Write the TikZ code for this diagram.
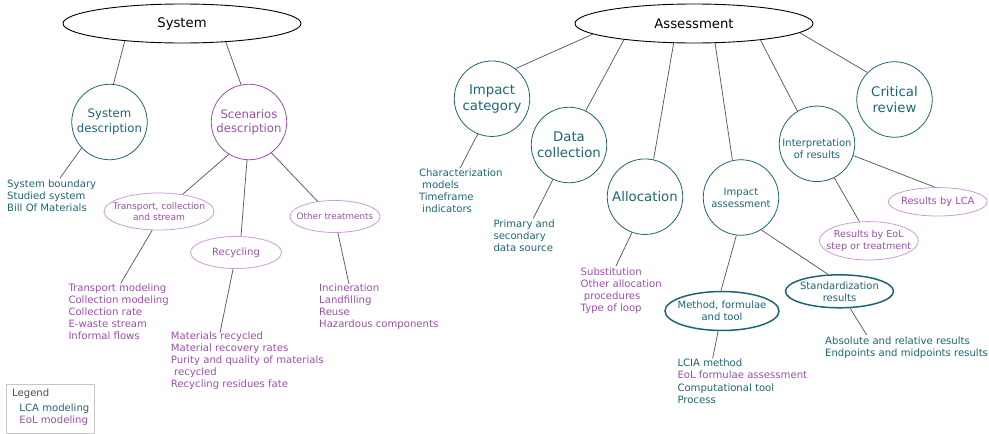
\documentclass[tikz,border=0pt]{standalone}
\usepackage{fontspec}
\setmainfont{DejaVu Sans}
\usetikzlibrary{shapes.geometric}
\definecolor{lca}{RGB}{27,102,116}
\definecolor{eol}{RGB}{158,76,172}
\definecolor{eolline}{RGB}{205,155,215}
\definecolor{conn}{RGB}{90,90,90}
\begin{document}
\begin{tikzpicture}[x=1pt,y=-1pt,
  top/.style={ellipse,draw=black,line width=0.9pt,minimum width=238pt,minimum height=39pt,inner sep=0pt,font=\fontsize{13.2}{15}\selectfont},
  bigc/.style={circle,draw=lca,line width=0.8pt,minimum size=75.5pt,inner sep=0pt,align=center,text=lca,font=\fontsize{13.3}{16}\selectfont},
  midc/.style={circle,draw=lca,line width=0.8pt,minimum size=75.5pt,inner sep=0pt,align=center,text=lca,font=\fontsize{11.7}{14.3}\selectfont},
  smallc/.style={circle,draw=lca,line width=0.8pt,minimum size=75.5pt,inner sep=0pt,align=center,text=lca,font=\fontsize{10}{12}\selectfont},
  eolell/.style={ellipse,draw=eolline,line width=0.8pt,inner sep=0pt},
  lcaell/.style={ellipse,draw=lca,line width=1.5pt,inner sep=0pt},
  eoltxt/.style={inner sep=0pt,align=center,text=eol},
  lcatxt/.style={inner sep=0pt,align=center,text=lca,font=\fontsize{10}{12}\selectfont},
  body/.style={anchor=base west,inner sep=0pt,align=left,font=\fontsize{10.1}{12}\selectfont},
  conn/.style={draw=conn,line width=0.75pt}]
\useasboundingbox (0,0) rectangle (989,434);

% top ellipses
\node[top] (sys) at (182,23.5) {System};
\node[top] (ass) at (694,23.5) {Assessment};

% system side
\node[midc] (sd) at (109.5,122) {System\\description};
\node[midc,draw=eol,text=eol] (sc) at (249,122) {Scenarios\\description};
\node[eolell,minimum width=110pt,minimum height=37pt,
  label={[eoltxt,font=\fontsize{9.1}{11.3}\selectfont]center:{Transport, collection\\and stream}}] (tr) at (159,211.5) {};
\node[eolell,minimum width=91pt,minimum height=32pt,
  label={[eoltxt,font=\fontsize{10}{12}\selectfont]center:{Recycling}}] (rc) at (236,252.5) {};
\node[eolell,minimum width=90pt,minimum height=32pt,
  label={[eoltxt,font=\fontsize{8.8}{11}\selectfont]center:{Other treatments}}] (ot) at (335,216.5) {};

% multi-line text nodes: anchor at baseline of the last line
\node[body,text=lca] (sdt) at (7,211.2) {System boundary\\Studied system\\Bill Of Materials};
\node[body,text=eol] (trt) at (68.3,339.2) {Transport modeling\\Collection modeling\\Collection rate\\E-waste stream\\Informal flows};
\node[body,text=eol] (rct) at (170.7,387.5) {Materials recycled\\Material recovery rates\\Purity and quality of materials\\\ recycled\\Recycling residues fate};
\node[body,text=eol] (ott) at (319,327.2) {Incineration\\Landfilling\\Reuse\\Hazardous components};

\coordinate (e1) at (60,178);
\coordinate (e2) at (120.7,283.3);
\coordinate (e3) at (220,332.7);
\coordinate (e4) at (349,284);

\path[conn] (sys.197.4) -- (sd.84.7);
\path[conn] (sys.337.6) -- (sc.102.5);
\path[conn] (sd.223.5) -- (e1);
\path[conn] (sc.238.8) -- (tr.36);
\path[conn] (sc.267) -- (rc.73);
\path[conn] (sc.306) -- (ot.139.5);
\path[conn] (tr.250) -- (e2);
\path[conn] (rc.260) -- (e3);
\path[conn] (ot.280) -- (e4);

% legend
\node[draw=black!22,line width=0.8pt,minimum width=87.6pt,minimum height=49.3pt,inner sep=0pt] (leg) at (50.5,408.7) {};
\node[body,text=black!70] (lg) at (12,396.8) {Legend};
\node[body,text=lca] (lg1) at (19.3,411.8) {LCA modeling};
\node[body,text=eol] (lg2) at (19.3,423.8) {EoL modeling};

% assessment side
\node[bigc] (ic) at (492,98.7) {Impact\\category};
\node[bigc] (dc) at (569,145) {Data\\collection};
\node[bigc] (al) at (645,196.7) {Allocation};
\node[smallc] (ia) at (741,197.5) {Impact\\assessment};
\node[smallc,label={[lcatxt,yshift=-5pt]center:{Interpretation\\of results}}] (ip) at (817,143.8) {};
\node[bigc] (cr) at (894.5,99.5) {Critical\\review};
\node[eolell,minimum width=99pt,minimum height=28.4pt,
  label={[eoltxt,font=\fontsize{9.9}{12}\selectfont]center:{Results by LCA}}] (rl) at (937.8,201.8) {};
\node[eolell,minimum width=99pt,minimum height=38.4pt,
  label={[eoltxt,font=\fontsize{9.6}{11.3}\selectfont]center:{Results by EoL\\step or treatment}}] (re) at (868.8,240.8) {};
\node[lcaell,minimum width=114pt,minimum height=39pt,
  label={[lcatxt]center:{Method, formulae\\and tool}}] (mt) at (722,311) {};
\node[lcaell,minimum width=108pt,minimum height=33pt,
  label={[lcatxt]center:{Standardization\\results}}] (st) at (839.5,291.3) {};

\node[body,text=lca] (ict) at (418.8,212.2) {Characterization\\\ models\\Timeframe\\\ indicators};
\node[body,text=lca] (dct) at (493.3,251.8) {Primary and\\secondary\\data source};
\node[body,text=eol] (alt) at (580.5,311.8) {Substitution\\Other allocation\\\ procedures\\Type of loop};
\node[body,text=lca] (mt1) at (677.3,366.2) {LCIA method};
\node[body,text=eol] (mt2) at (677.3,378.5) {EoL formulae assessment};
\node[body,text=lca] (mt3) at (677.3,403.8) {Computational tool\\Process};
\node[body,text=lca] (stt) at (825,356.2) {Absolute and relative results\\Endpoints and midpoints results};

\coordinate (f1) at (460,168.3);
\coordinate (f2) at (533.3,218.3);
\coordinate (f3) at (616,266);
\coordinate (f4) at (712.7,358.3);
\coordinate (f5) at (866.7,335);

\path[conn] (ass.186) -- (ic.52.6);
\path[conn] (ass.193.5) -- (dc.64);
\path[conn] (ass.224.7) -- (al.77.8);
\path[conn] (ass.317) -- (ia.103.7);
\path[conn] (ass.346.5) -- (ip.121.5);
\path[conn] (ass.355.3) -- (cr.135.6);
\path[conn] (ic.248) -- (f1);
\path[conn] (dc.245.5) -- (f2);
\path[conn] (al.250) -- (f3);
\path[conn] (ia.263.6) -- (mt.93);
\path[conn] (ia.302.5) -- (st.124.5);
\path[conn] (mt.259.5) -- (f4);
\path[conn] (st.302.6) -- (f5);
\path[conn] (ip.342.6) -- (rl.101);
\path[conn] (ip.297.8) -- (re.116.4);
\end{tikzpicture}
\end{document}
